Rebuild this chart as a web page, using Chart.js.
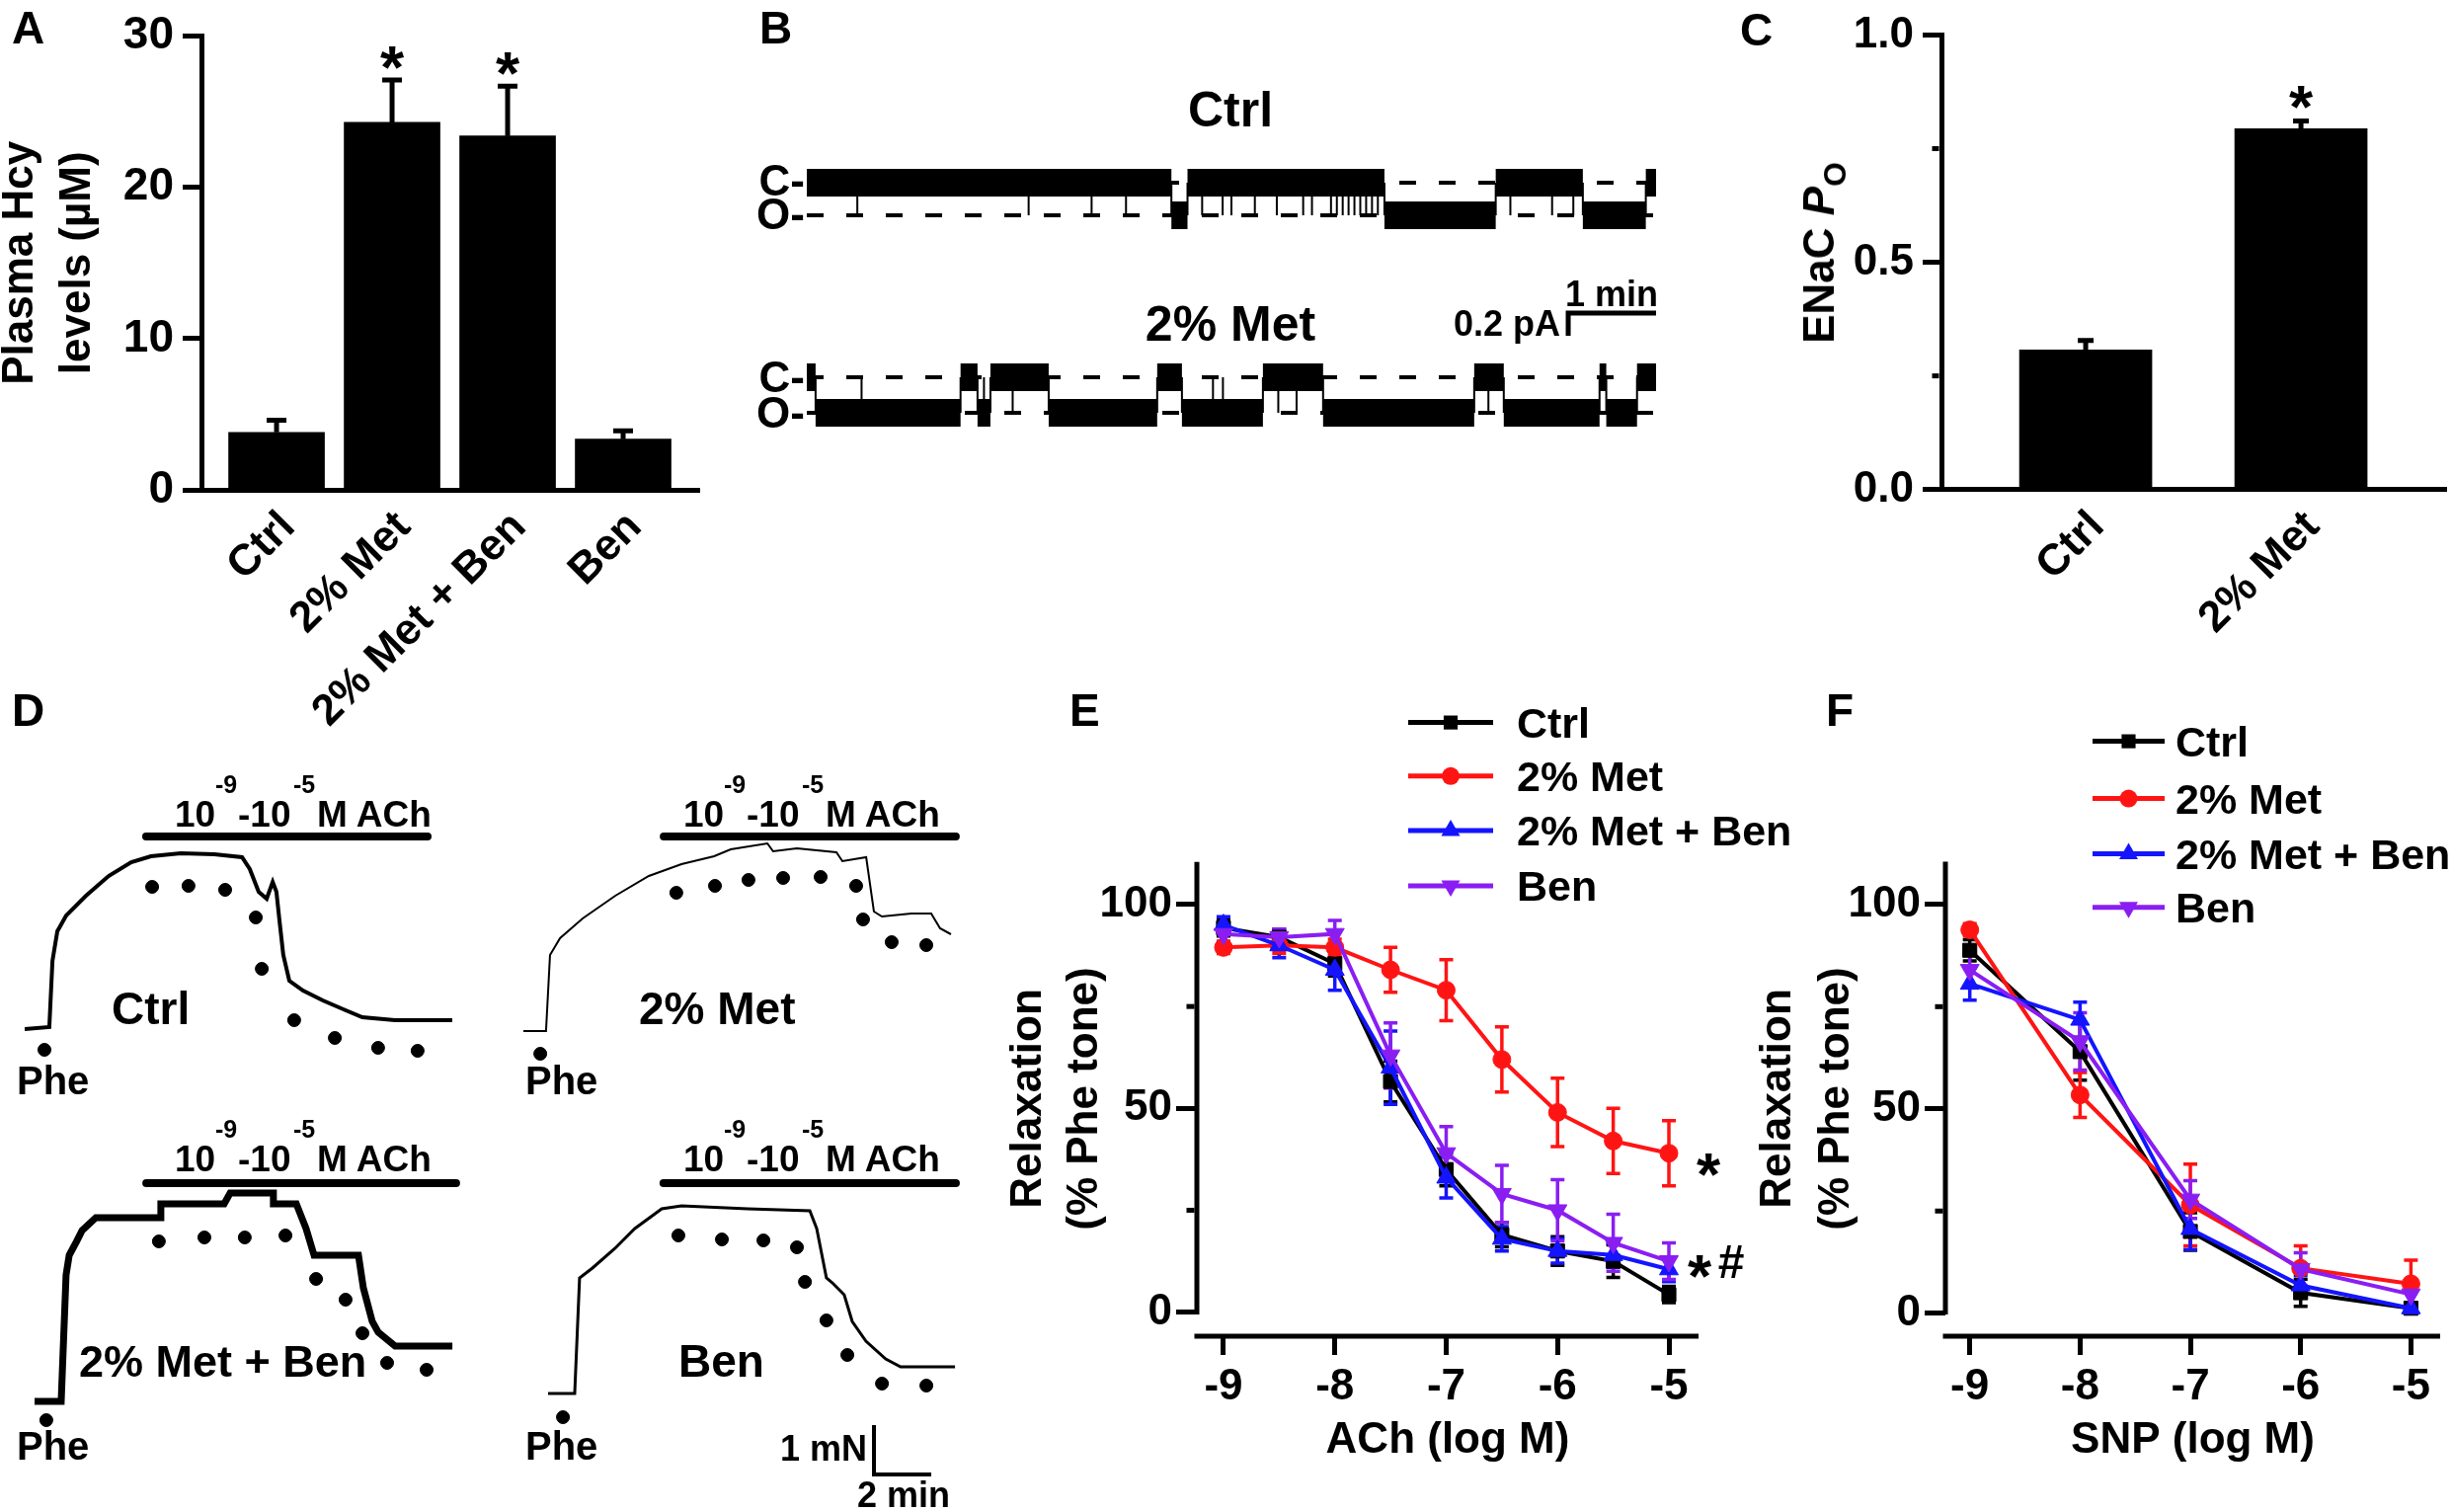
<!DOCTYPE html>
<html>
<head>
<meta charset="utf-8">
<script src="https://cdn.jsdelivr.net/npm/chart.js@4.4.1/dist/chart.umd.min.js"></script>
<style>
  html, body { margin: 0; padding: 0; background: #fff; }
  #fig { position: relative; width: 2483px; height: 1531px; overflow: hidden;
         font-family: "Liberation Sans", Arial, sans-serif; font-weight: bold; color: #000; }
  #fig canvas { position: absolute; left: 0; top: 0; }
  .t { position: absolute; white-space: nowrap; line-height: 1; }
</style>
</head>
<body>
<div id="fig">
  <canvas id="cA" width="2483" height="1531"></canvas>
  <canvas id="cB" width="2483" height="1531"></canvas>
  <canvas id="cC" width="2483" height="1531"></canvas>
  <canvas id="cD1" width="2483" height="1531"></canvas>
  <canvas id="cD2" width="2483" height="1531"></canvas>
  <canvas id="cD3" width="2483" height="1531"></canvas>
  <canvas id="cD4" width="2483" height="1531"></canvas>
  <canvas id="cE" width="2483" height="1531"></canvas>
  <canvas id="cF" width="2483" height="1531"></canvas>
</div>
<script>
// ---------- A: plasma Hcy ----------
const hcyGroups = ["Ctrl", "2% Met", "2% Met + Ben", "Ben"];
const hcyMean = [3.8, 24.3, 23.4, 3.35];
const hcySem = [0.8, 2.8, 3.3, 0.55];
const hcyTicks = [0, 10, 20, 30];

// ---------- C: ENaC Po ----------
const poGroups = ["Ctrl", "2% Met"];
const poMean = [0.307, 0.794];
const poSem = [0.021, 0.017];
const poTicks = [0, 0.5, 1.0];
const poMinor = [0.25, 0.75];

// ---------- B: single channel records (time in s, current in pA) ----------
const bDuration = 580;
const bCtrlOpen = -0.287;
const bMetOpen = -0.313;
// dwell changes, starting closed
const bCtrlSwitch = [249, 260, 394.5, 470.5, 530, 573];
// brief openings / closings shown as single transitions
const bCtrlSpikes = [34.5, 151.5, 194.5, 218, 270, 284, 290, 306, 321, 339, 345, 358, 362, 366,
  370, 374, 378, 382, 386, 390, 480.5, 509, 523.5];
const bMetSwitch = [6, 105, 116.6, 125.4, 165.2, 239.3, 256.2, 311.5, 352.6, 455.8, 476, 541.4, 546, 567];
const bMetSpikes = [37.4, 121, 140.6, 277.4, 284.2, 322, 334.5, 465.5];
const bScaleT = [520, 520, 580];
const bScaleI = [0.365, 0.565, 0.565];

// ---------- D: myograph traces (min, mN) ----------
const dCtrlTrace = [[0,0],[0.86,0.04],[0.97,1.38],[1.14,1.98],[1.45,2.3],[2.14,2.7],[2.93,3.1],[3.72,3.38],
  [4.41,3.5],[5.45,3.56],[6.62,3.54],[7.59,3.48],[7.86,3.24],[8.17,2.78],[8.45,2.64],[8.66,2.98],[8.79,2.78],
  [8.9,2.18],[9.03,1.5],[9.24,0.98],[9.72,0.78],[10.41,0.58],[11.21,0.38],[11.79,0.24],[12.93,0.18],[14.93,0.18]];
const dCtrlDots = [[0.69,-0.42],[4.45,2.88],[5.72,2.9],[7.0,2.82],[8.07,2.26],[8.28,1.22],[9.41,0.18],
  [10.83,-0.18],[12.34,-0.38],[13.72,-0.44]];
const dCtrlBar = [4.24, 14.07, 3.9];

const dMetTrace = [[0,0],[0.79,0],[0.93,1.54],[1.28,1.88],[2.07,2.28],[3.21,2.74],[4.38,3.14],[5.52,3.38],
  [6.66,3.54],[7.24,3.68],[8.52,3.8],[8.72,3.64],[9.55,3.7],[10.93,3.62],[11.14,3.44],[11.97,3.52],
  [12.24,2.42],[12.52,2.32],[13.55,2.38],[14.24,2.38],[14.55,2.08],[14.93,1.96]];
const dMetDots = [[0.59,-0.46],[5.34,2.8],[6.69,2.94],[7.86,3.06],[9.07,3.1],[10.38,3.12],[11.62,2.94],
  [11.86,2.26],[12.86,1.8],[14.07,1.74]];
const dMetBar = [4.9, 15.1, 3.94];

const dMetBenTrace = [[0,0],[0.93,0],[1.1,2.56],[1.21,2.96],[1.45,3.22],[1.66,3.46],[2.14,3.72],[4.41,3.72],
  [4.41,4.0],[6.62,4.0],[6.83,4.22],[8.34,4.22],[8.34,4.0],[9.14,4.0],[9.48,3.5],[9.76,2.96],[11.31,2.96],
  [11.48,2.3],[11.79,1.62],[12.0,1.4],[12.59,1.12],[14.59,1.12]];
const dMetBenDots = [[0.41,-0.38],[4.34,3.24],[5.93,3.32],[7.34,3.32],[8.76,3.36],[9.83,2.48],[10.86,2.06],
  [11.45,1.38],[12.31,0.78],[13.69,0.64]];
const dMetBenBar = [3.9, 14.72, 4.42];

const dBenTrace = [[0,0],[0.93,0],[1.1,2.34],[1.55,2.54],[2.34,2.94],[3.03,3.34],[3.97,3.74],[4.66,3.8],
  [6.97,3.74],[9.14,3.7],[9.38,3.34],[9.72,2.34],[9.93,2.24],[10.34,2.0],[10.62,1.46],[11.1,1.06],
  [11.79,0.7],[12.31,0.54],[13.03,0.54],[14.21,0.54]];
const dBenDots = [[0.52,-0.48],[4.55,3.2],[6.07,3.12],[7.52,3.1],[8.69,2.96],[8.97,2.26],[9.72,1.48],
  [10.45,0.78],[11.66,0.2],[13.21,0.16]];
const dBenBar = [4.03, 14.24, 4.26];
const dScaleT = [11.38, 11.38, 13.38];
const dScaleF = [-0.64, -1.64, -1.64];

// ---------- E: ACh concentration-response ----------
const achLogM = [-9, -8.5, -8, -7.5, -7, -6.5, -6, -5.5, -5];
const achCtrl = [94.3, 92, 85.5, 56.6, 35, 19, 15, 12.5, 4.3];
const achMet = [89.5, 90, 89.5, 84, 79, 62, 49, 42, 39];
const achMetBen = [95, 90, 84, 60, 33, 18, 15, 14, 10.5];
const achBen = [92.8, 92, 92.8, 63, 39, 29, 25, 17, 12.5];
const achCtrlSem = [2, 2, 3, 5, 4, 3, 3.5, 4, 2];
const achMetSem = [1.5, 2, 2, 5.5, 7.5, 8, 8.4, 8, 8];
const achMetBenSem = [2, 3, 5, 9, 5, 3, 3, 3, 3];
const achBenSem = [2, 2, 3.3, 8, 6.5, 7, 7.5, 7, 4.5];

// ---------- F: SNP concentration-response ----------
const snpLogM = [-9, -8, -7, -6, -5];
const snpCtrl = [88.8, 64, 20, 5, 1.2];
const snpMet = [93.8, 53.4, 26.5, 11, 7.2];
const snpMetBen = [80.6, 71.8, 20.6, 6.8, 1.2];
const snpBen = [84, 66.5, 27.8, 10.8, 4.6];
const snpCtrlSem = [2.6, 7, 4.6, 3.3, 1];
const snpMetSem = [1.5, 5.5, 10, 5.5, 5.8];
const snpMetBenSem = [4, 4.3, 5, 2.5, 1];
const snpBenSem = [4, 7, 4.6, 4, 2];

const logTicks = [-9, -8, -7, -6, -5];
const relaxTicks = [0, 50, 100];
const relaxMinor = [25, 75];

const groupStyles = [
  {label: "Ctrl", color: "#000000", pointStyle: "rect", radius: 10, rotation: 0},
  {label: "2% Met", color: "#ff1414", pointStyle: "circle", radius: 9, rotation: 0},
  {label: "2% Met + Ben", color: "#1414ff", pointStyle: "triangle", radius: 11, rotation: 0},
  {label: "Ben", color: "#8a1ef2", pointStyle: "triangle", radius: 11, rotation: 180},
];

const FONT = "'Liberation Sans', Arial, sans-serif";
Chart.defaults.font.family = FONT;
Chart.defaults.font.weight = "bold";
Chart.defaults.color = "#000";
Chart.defaults.animation = false;
Chart.defaults.responsive = false;
Chart.defaults.events = [];
Chart.defaults.plugins.legend.display = false;
Chart.defaults.plugins.tooltip.enabled = false;

// ---------- drawing helpers used by the plugin ----------
function drawMarker(ctx, style, r, rot, x, y) {
  ctx.save();
  ctx.translate(x, y);
  ctx.rotate(rot * Math.PI / 180);
  ctx.beginPath();
  if (style === "rect") {
    const s = r * Math.SQRT1_2;
    ctx.rect(-s, -s, 2 * s, 2 * s);
  } else if (style === "triangle") {
    for (let k = 0; k < 3; k++) {
      const a = k * 2 * Math.PI / 3;
      const px = Math.sin(a) * r, py = -Math.cos(a) * r;
      if (k) ctx.lineTo(px, py); else ctx.moveTo(px, py);
    }
    ctx.closePath();
  } else {
    ctx.arc(0, 0, r, 0, 2 * Math.PI);
  }
  ctx.fill();
  ctx.restore();
}

function drawBarErrors(chart, o) {
  const ctx = chart.ctx, xs = chart.scales.x, ys = chart.scales.y;
  ctx.save();
  ctx.strokeStyle = "#000";
  ctx.lineWidth = o.width;
  chart.data.datasets[0].data.forEach((p, i) => {
    const x = xs.getPixelForValue(p.x);
    const y0 = ys.getPixelForValue(p.y);
    const y1 = ys.getPixelForValue(p.y + o.sem[i]);
    ctx.beginPath();
    ctx.moveTo(x, y0);
    ctx.lineTo(x, y1);
    ctx.moveTo(x - o.cap, y1);
    ctx.lineTo(x + o.cap, y1);
    ctx.stroke();
  });
  ctx.restore();
}

function drawPointErrors(chart, o) {
  const ctx = chart.ctx, xs = chart.scales.x, ys = chart.scales.y;
  ctx.save();
  ctx.lineWidth = o.width;
  o.sems.forEach((sem, k) => {
    const ds = chart.data.datasets[k];
    ctx.strokeStyle = ds.borderColor;
    ds.data.forEach((p, i) => {
      const x = xs.getPixelForValue(p.x);
      const yLo = ys.getPixelForValue(p.y - sem[i]);
      const yHi = ys.getPixelForValue(p.y + sem[i]);
      ctx.beginPath();
      ctx.moveTo(x, yLo);
      ctx.lineTo(x, yHi);
      ctx.moveTo(x - o.cap, yLo);
      ctx.lineTo(x + o.cap, yLo);
      ctx.moveTo(x - o.cap, yHi);
      ctx.lineTo(x + o.cap, yHi);
      ctx.stroke();
    });
  });
  ctx.restore();
}

function drawAxisLines(chart, o) {
  const {ctx, chartArea: a} = chart;
  const ys = chart.scales.y;
  ctx.save();
  ctx.strokeStyle = "#000";
  ctx.lineWidth = o.width;
  ctx.beginPath();
  ctx.moveTo(a.left, ys.getPixelForValue(o.yTop));
  ctx.lineTo(a.left, ys.getPixelForValue(o.yBottom));
  ctx.moveTo(a.left - o.width / 2, a.bottom);
  ctx.lineTo(a.right, a.bottom);
  ctx.stroke();
  ctx.restore();
}

function drawMinorTicks(chart, o) {
  const {ctx, chartArea: a} = chart;
  const ys = chart.scales.y;
  ctx.save();
  ctx.strokeStyle = "#000";
  ctx.lineWidth = o.width;
  o.values.forEach(v => {
    const y = ys.getPixelForValue(v);
    ctx.beginPath();
    ctx.moveTo(a.left - 2.5, y);
    ctx.lineTo(a.left - 2.5 - o.len, y);
    ctx.stroke();
  });
  ctx.restore();
}

function drawLegend(chart, o) {
  const ctx = chart.ctx;
  ctx.save();
  chart.data.datasets.forEach((ds, i) => {
    const st = groupStyles[i];
    const y = o.rows[i];
    ctx.strokeStyle = st.color;
    ctx.fillStyle = st.color;
    ctx.lineWidth = 5;
    ctx.beginPath();
    ctx.moveTo(o.x0, y);
    ctx.lineTo(o.x1, y);
    ctx.stroke();
    drawMarker(ctx, st.pointStyle, st.radius, st.rotation, (o.x0 + o.x1) / 2, y);
    ctx.fillStyle = "#000";
    ctx.font = "bold " + o.size + "px " + FONT;
    ctx.textAlign = "left";
    ctx.textBaseline = "alphabetic";
    ctx.fillText(ds.label, o.tx, y + 0.358 * o.size);
  });
  ctx.restore();
}

function drawNotes(chart, notes) {
  const ctx = chart.ctx, xs = chart.scales.x, ys = chart.scales.y;
  ctx.save();
  ctx.fillStyle = "#000";
  ctx.textAlign = "center";
  ctx.textBaseline = "alphabetic";
  notes.forEach(n => {
    const px = xs.getPixelForValue(n.x) + (n.dx || 0);
    const py = ys.getPixelForValue(n.y) + (n.dy || 0);
    ctx.font = "bold " + n.size + "px " + FONT;
    ctx.fillText(n.text, px, py + n.lift * n.size);
  });
  ctx.restore();
}

Chart.register({
  id: "figExtras",
  beforeDatasetsDraw(chart, args, o) {
    if (o.pointErrors) drawPointErrors(chart, o.pointErrors);
  },
  afterDatasetsDraw(chart, args, o) {
    if (o.barErrors) drawBarErrors(chart, o.barErrors);
    if (o.axisLines) drawAxisLines(chart, o.axisLines);
    if (o.minorTicks) drawMinorTicks(chart, o.minorTicks);
    if (o.legend) drawLegend(chart, o.legend);
    if (o.notes) drawNotes(chart, o.notes);
  }
});

// ---------- text helper (x,y = baseline anchor) ----------
const fig = document.getElementById("fig");
function addText(html, x, y, size, align) {
  const d = document.createElement("div");
  d.className = "t";
  d.innerHTML = html;
  d.style.fontSize = size + "px";
  d.style.top = (y - 0.8465 * size) + "px";
  if (align === "right") {
    d.style.right = (2483 - x) + "px";
  } else if (align === "center") {
    d.style.left = x + "px";
    d.style.transform = "translateX(-50%)";
  } else {
    d.style.left = x + "px";
  }
  fig.appendChild(d);
  return d;
}

// ---------- bar charts (A, C) ----------
function barChart(id, groups, mean, sem, ticks, cfg) {
  return new Chart(document.getElementById(id), {
    type: "bar",
    data: {
      datasets: [{
        data: mean.map((v, i) => ({x: i + 1, y: v})),
        backgroundColor: "#000",
        borderWidth: 0,
        barThickness: cfg.barWidth
      }]
    },
    options: {
      layout: {padding: cfg.padding},
      scales: {
        x: {
          type: "linear", min: cfg.xMin, max: cfg.xMax, offset: false,
          afterBuildTicks: s => { s.ticks = groups.map((g, i) => ({value: i + 1})); },
          afterFit: s => { s.height = cfg.xHeight; },
          grid: {display: false, drawTicks: false, offset: false},
          border: {display: true, width: 5, color: "#000"},
          ticks: {
            callback: v => groups[v - 1] || "",
            maxRotation: 45, minRotation: 45, autoSkip: false,
            font: {size: 44}, padding: cfg.labelPad, labelOffset: cfg.labelShift
          }
        },
        y: {
          min: ticks[0], max: ticks[ticks.length - 1],
          afterBuildTicks: s => { s.ticks = ticks.map(v => ({value: v})); },
          afterFit: s => { s.width = cfg.yWidth; },
          grid: {drawOnChartArea: false, drawTicks: true, tickLength: 19, tickWidth: 5, tickColor: "#000"},
          border: {display: true, width: 5, color: "#000"},
          ticks: {font: {size: cfg.tickSize}, padding: 9, callback: cfg.tickFmt},
          title: cfg.yTitle
        }
      },
      plugins: {figExtras: cfg.extras}
    }
  });
}

barChart("cA", hcyGroups, hcyMean, hcySem, hcyTicks, {
  barWidth: 97, xMin: 0.35, xMax: 4.658, xHeight: 320, yWidth: 204,
  padding: {left: 0, top: 24, right: 2483 - 708, bottom: 1531 - 496 - 320},
  labelPad: 12, labelShift: 12, tickSize: 46, tickFmt: v => String(v),
  yTitle: {display: true, text: ["Plasma Hcy", "levels (\u00b5M)"],
           font: {size: 44, lineHeight: 1.32}, padding: {top: -8, bottom: 0}},
  extras: {
    barErrors: {sem: hcySem, cap: 10, width: 5},
    notes: [
      {text: "*", x: 2, y: hcyMean[1] + hcySem[1], dy: -27, size: 62, lift: 0.57},
      {text: "*", x: 3, y: hcyMean[2] + hcySem[2], dy: -27, size: 62, lift: 0.57}
    ]
  }
});

barChart("cC", poGroups, poMean, poSem, poTicks, {
  barWidth: 134, xMin: 0.33, xMax: 2.674, xHeight: 320, yWidth: 140,
  padding: {left: 1966 - 140, top: 24.7, right: 6, bottom: 1531 - 495.7 - 320},
  labelPad: 12, labelShift: 12, tickSize: 44, tickFmt: v => v.toFixed(1),
  yTitle: {display: false},
  extras: {
    barErrors: {sem: poSem, cap: 8, width: 5},
    minorTicks: {values: poMinor, len: 7, width: 5},
    notes: [{text: "*", x: 2, y: poMean[1] + poSem[1], dy: -29, size: 62, lift: 0.57}]
  }
});

// ---------- B: channel records ----------
function stepPoints(switches, openAmp) {
  const pts = [];
  let level = 0;
  pts.push({x: 0, y: level});
  switches.forEach(t => {
    pts.push({x: t, y: level});
    level = level === 0 ? openAmp : 0;
    pts.push({x: t, y: level});
  });
  pts.push({x: bDuration, y: level});
  return pts;
}
function spikePoints(times, openAmp) {
  const pts = [];
  times.forEach(t => {
    pts.push({x: t, y: 0}, {x: t, y: openAmp}, {x: t, y: null});
  });
  return pts;
}
function channelSets(switches, spikes, openAmp, axis) {
  const dashed = lvl => ({
    data: [{x: 0, y: lvl}, {x: bDuration, y: lvl}], yAxisID: axis,
    borderColor: "#000", borderWidth: 4, borderDash: [17, 23], pointRadius: 0, order: 10
  });
  return [
    dashed(0), dashed(openAmp),
    {
      data: stepPoints(switches, openAmp), yAxisID: axis,
      borderColor: "#000", borderWidth: 28, borderCapStyle: "butt", borderJoinStyle: "miter",
      pointRadius: 0, tension: 0, order: 5,
      segment: {borderWidth: c => (c.p0.parsed.x === c.p1.parsed.x ? 2 : 28)}
    },
    {
      data: spikePoints(spikes, openAmp), yAxisID: axis, spanGaps: false,
      borderColor: "#000", borderWidth: 2, pointRadius: 0, order: 4
    }
  ];
}
new Chart(document.getElementById("cB"), {
  type: "line",
  data: {
    datasets: [
      ...channelSets(bCtrlSwitch, bCtrlSpikes, bCtrlOpen, "yC"),
      ...channelSets(bMetSwitch, bMetSpikes, bMetOpen, "yM"),
      {data: bScaleT.map((t, i) => ({x: t, y: bScaleI[i]})), yAxisID: "yM",
       borderColor: "#000", borderWidth: 5, pointRadius: 0, order: 0}
    ]
  },
  options: {
    layout: {padding: {left: 817, right: 2483 - 1677, top: 150, bottom: 1531 - 450}},
    scales: {
      x: {type: "linear", display: false, min: 0, max: bDuration},
      yC: {type: "linear", display: false, min: -2.3044, max: 0.3043},
      yM: {type: "linear", display: false, min: -0.5913, max: 2.0174}
    }
  }
});

// ---------- D: myograph traces ----------
const PX_PER_MIN = 29, PX_PER_MN = 50;
function xy(pairs) { return pairs.map(p => ({x: p[0], y: p[1]})); }
function tensionChart(id, origin, trace, dots, bar, lineWidth, withScale) {
  const [x0, y0] = origin;
  const datasets = [
    {data: xy(trace), borderColor: "#000", borderWidth: lineWidth, pointRadius: 0, tension: 0, order: 3},
    {data: xy(dots), showLine: false, pointRadius: 6.5, pointBackgroundColor: "#000",
     pointBorderColor: "#000", order: 2},
    {data: [{x: bar[0], y: bar[2]}, {x: bar[1], y: bar[2]}], borderColor: "#000", borderWidth: 8,
     borderCapStyle: "round", pointRadius: 0, order: 1}
  ];
  if (withScale) {
    datasets.push({data: dScaleT.map((t, i) => ({x: t, y: dScaleF[i]})), borderColor: "#000",
      borderWidth: 4, pointRadius: 0, order: 0});
  }
  return new Chart(document.getElementById(id), {
    type: "line",
    data: {datasets},
    options: {
      layout: {padding: {left: x0, top: y0 - 4.6 * PX_PER_MN,
                         right: 2483 - (x0 + 16 * PX_PER_MIN), bottom: 1531 - (y0 + 1.8 * PX_PER_MN)}},
      scales: {
        x: {type: "linear", display: false, min: 0, max: 16},
        y: {type: "linear", display: false, min: -1.8, max: 4.6}
      }
    }
  });
}
tensionChart("cD1", [25, 1042], dCtrlTrace, dCtrlDots, dCtrlBar, 4, false);
tensionChart("cD2", [530, 1044], dMetTrace, dMetDots, dMetBar, 2, false);
tensionChart("cD3", [35, 1419], dMetBenTrace, dMetBenDots, dMetBenBar, 7, false);
tensionChart("cD4", [555, 1411], dBenTrace, dBenDots, dBenBar, 3, true);

// ---------- E, F: concentration-response ----------
function doseChart(id, xs, series, sems, L) {
  return new Chart(document.getElementById(id), {
    type: "line",
    data: {
      datasets: series.map((ys, k) => ({
        label: groupStyles[k].label,
        data: xs.map((x, i) => ({x, y: ys[i]})),
        borderColor: groupStyles[k].color,
        backgroundColor: groupStyles[k].color,
        pointBackgroundColor: groupStyles[k].color,
        pointBorderColor: groupStyles[k].color,
        borderWidth: 4,
        pointStyle: groupStyles[k].pointStyle,
        pointRadius: groupStyles[k].radius,
        pointRotation: groupStyles[k].rotation,
        pointBorderWidth: 1,
        tension: 0,
        clip: false,
        order: 4 - k
      }))
    },
    options: {
      layout: {padding: {left: L.left - L.yWidth, top: L.top, right: 2483 - L.right,
                         bottom: 1531 - L.bottom - 140}},
      scales: {
        x: {
          type: "linear", min: L.xMin, max: L.xMax,
          afterBuildTicks: s => { s.ticks = logTicks.map(v => ({value: v})); },
          afterFit: s => { s.height = 140; },
          grid: {drawOnChartArea: false, drawTicks: true, tickLength: 19, tickWidth: 5, tickColor: "#000"},
          border: {display: false},
          ticks: {font: {size: 44}, padding: 6, maxRotation: 0},
          title: {display: true, text: L.xTitle, font: {size: 44}, padding: {top: 0, bottom: 8}}
        },
        y: {
          min: L.yMin, max: L.yMax,
          afterBuildTicks: s => { s.ticks = relaxTicks.map(v => ({value: v})); },
          afterFit: s => { s.width = L.yWidth; },
          grid: {drawOnChartArea: false, drawTicks: true, tickLength: 21, tickWidth: 5, tickColor: "#000"},
          border: {display: false},
          ticks: {font: {size: 44}, padding: 4},
          title: {display: true, text: ["Relaxation", "(% Phe tone)"],
                  font: {size: 44, lineHeight: L.titleLH}, padding: {top: L.titlePad, bottom: 0}}
        }
      },
      plugins: {
        figExtras: {
          pointErrors: {sems, cap: 7, width: 3.5},
          axisLines: {yTop: L.yLineTop, yBottom: L.yLineBottom, width: 5},
          minorTicks: {values: relaxMinor, len: 8, width: 5},
          legend: L.legend,
          notes: L.notes
        }
      }
    }
  });
}

doseChart("cE", achLogM, [achCtrl, achMet, achMetBen, achBen],
  [achCtrlSem, achMetSem, achMetBenSem, achBenSem], {
  left: 1212, right: 1720, top: 872, bottom: 1353, yWidth: 212,
  xMin: -9.239, xMax: -4.734, yMin: -5.91, yMax: 110.66, yLineTop: 110.5, yLineBottom: -0.6,
  titleLH: 57 / 44, titlePad: 13.5, xTitle: "ACh (log M)",
  legend: {x0: 1426, x1: 1512, tx: 1536, rows: [731.6, 785.8, 841, 897], size: 43},
  notes: [
    {text: "*", x: -5, y: achMet[8], dx: 40, dy: 7, size: 62, lift: 0.57},
    {text: "*", x: -5, y: achBen[8], dx: 31, dy: 1, size: 62, lift: 0.57},
    {text: "#", x: -5, y: achBen[8], dx: 63, dy: 0, size: 48, lift: 0.36}
  ]
});

doseChart("cF", snpLogM, [snpCtrl, snpMet, snpMetBen, snpBen],
  [snpCtrlSem, snpMetSem, snpMetBenSem, snpBenSem], {
  left: 1970, right: 2477, top: 872, bottom: 1353, yWidth: 220,
  xMin: -9.221, xMax: -4.735, yMin: -5.63, yMax: 110.6, yLineTop: 110.5, yLineBottom: -0.3,
  titleLH: 59 / 44, titlePad: 21.5, xTitle: "SNP (log M)",
  legend: {x0: 2119, x1: 2192, tx: 2203, rows: [750.6, 808.6, 864.5, 918.8], size: 43},
  notes: []
});

// ---------- labels ----------
addText("A", 12, 44, 46);
addText("B", 769, 44, 46);
addText("C", 1762, 46, 46);
addText("D", 12, 735, 46);
addText("E", 1083, 735, 46);
addText("F", 1849, 735, 46);

// B
addText("Ctrl", 1246, 128, 50, "center");
addText("2% Met", 1246, 345, 50, "center");
addText("C-", 815, 198, 44, "right");
addText("O-", 815, 232, 44, "right");
addText("C-", 815, 397, 44, "right");
addText("O-", 815, 433, 44, "right");
addText("0.2 pA", 1580, 340, 36, "right");
addText("1 min", 1585, 310, 36);

// C axis title
const poTitle = document.createElement("div");
poTitle.className = "t";
poTitle.style.cssText = "left:1842px;top:256px;font-size:44px;transform:translate(-50%,-50%) rotate(-90deg);";
poTitle.innerHTML = 'ENaC <i>P</i><span style="position:relative;top:0.38em;font-size:0.72em">O</span>';
fig.appendChild(poTitle);

// D
function achLabel(x0, base) {
  addText("10", x0, base, 37);
  addText("-9", x0 + 41, base - 34, 25);
  addText("-10", x0 + 64, base, 37);
  addText("-5", x0 + 120, base - 34, 25);
  addText("M ACh", x0 + 144, base, 37);
}
achLabel(177, 837);
achLabel(692, 837);
achLabel(177, 1186);
achLabel(692, 1186);
addText("Ctrl", 113, 1037, 46);
addText("2% Met", 647, 1037, 46);
addText("2% Met + Ben", 80, 1394, 45);
addText("Ben", 687, 1394, 46);
addText("Phe", 17, 1108, 40);
addText("Phe", 532, 1108, 40);
addText("Phe", 17, 1478, 40);
addText("Phe", 532, 1478, 40);
addText("1 mN", 878, 1479, 36, "right");
addText("2 min", 868, 1526, 36);
</script>
</body>
</html>
